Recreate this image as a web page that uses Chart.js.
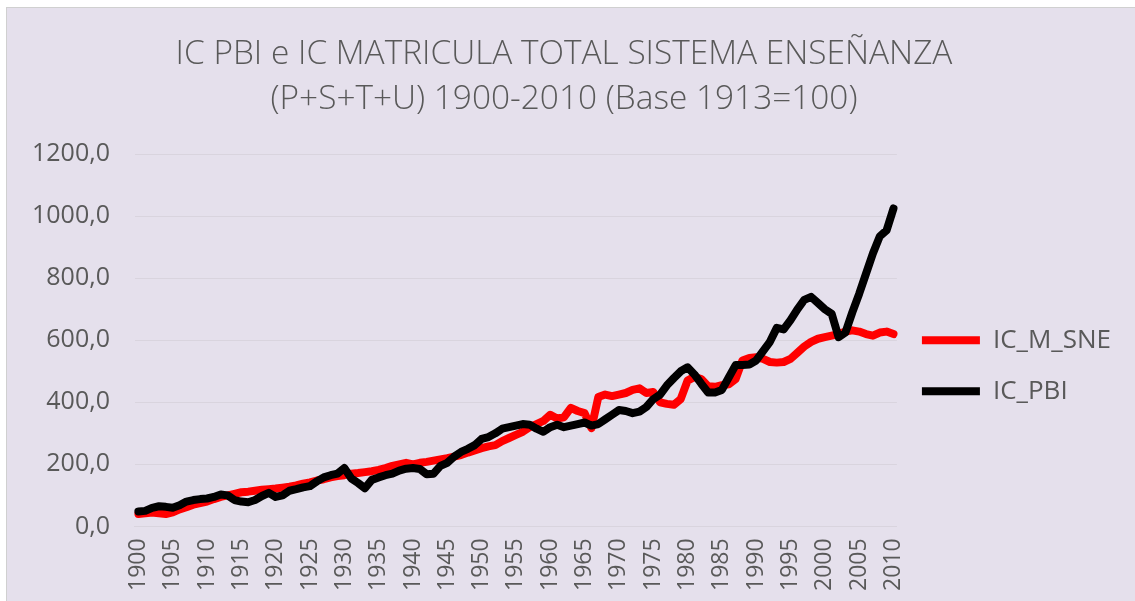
<!DOCTYPE html>
<html>
<head>
<meta charset="utf-8">
<script src="https://cdn.jsdelivr.net/npm/chart.js@4.4.1/dist/chart.umd.min.js"></script>
<style>
  html, body { margin: 0; padding: 0; background: #ffffff; }
  #frame {
    position: absolute; left: 6px; top: 7px; width: 1129px; height: 594px;
    background: #e5e0ec; border-left: 1px solid #d0d0d0; border-top: 1px solid #d0d0d0;
  }
  canvas { display: block; }
</style>
</head>
<body>
<div id="frame"><canvas id="chart" width="1128" height="593"></canvas></div>
<script>
const years = [
  1900, 1901, 1902, 1903, 1904, 1905, 1906, 1907, 1908, 1909,
  1910, 1911, 1912, 1913, 1914, 1915, 1916, 1917, 1918, 1919,
  1920, 1921, 1922, 1923, 1924, 1925, 1926, 1927, 1928, 1929,
  1930, 1931, 1932, 1933, 1934, 1935, 1936, 1937, 1938, 1939,
  1940, 1941, 1942, 1943, 1944, 1945, 1946, 1947, 1948, 1949,
  1950, 1951, 1952, 1953, 1954, 1955, 1956, 1957, 1958, 1959,
  1960, 1961, 1962, 1963, 1964, 1965, 1966, 1967, 1968, 1969,
  1970, 1971, 1972, 1973, 1974, 1975, 1976, 1977, 1978, 1979,
  1980, 1981, 1982, 1983, 1984, 1985, 1986, 1987, 1988, 1989,
  1990, 1991, 1992, 1993, 1994, 1995, 1996, 1997, 1998, 1999,
  2000, 2001, 2002, 2003, 2004, 2005, 2006, 2007, 2008, 2009, 2010
];

// IC_M_SNE (red)
const icMatricula = [
  40, 42, 45, 42, 40, 45, 55, 62, 70, 75,
  80, 88, 95, 100, 105, 110, 112, 115, 118, 120,
  122, 125, 128, 132, 138, 142, 148, 152, 158, 162,
  165, 170, 172, 175, 178, 182, 188, 195, 200, 205,
  200, 205, 208, 212, 216, 220, 225, 230, 238, 245,
  252, 258, 262, 275, 285, 295, 305, 320, 330, 340,
  360, 348, 352, 382, 372, 365, 317, 417, 425, 420,
  425, 430, 440, 445, 430, 433, 400, 395, 392, 410,
  470, 482, 475, 452, 450, 455, 458, 475, 535, 543,
  545, 540, 530, 528, 530, 540, 560, 580, 595, 605,
  610, 615, 620, 628, 632, 628, 620, 615, 625, 628, 620
];

// IC_PBI (black)
const icPbi = [
  48, 50, 60, 65, 63, 60, 68, 80, 85, 88,
  90, 95, 103, 100, 85, 80, 78, 85, 98, 108,
  95, 100, 115, 120, 126, 130, 145, 158, 165, 170,
  188, 155, 140, 123, 150, 158, 165, 170, 180, 186,
  188, 185, 168, 170, 195, 205, 225, 240, 250, 262,
  282, 288, 300, 315, 320, 325, 330, 328, 315, 305,
  320, 328, 320, 325, 330, 335, 325, 330, 345, 360,
  375, 372, 365, 370, 385, 410, 425, 455, 478, 500,
  513, 490, 460, 432, 432, 440, 480, 520, 520, 522,
  535, 565, 595, 640, 635, 665, 700, 730, 740, 720,
  700, 685, 610, 625, 690, 750, 815, 880, 935, 955, 1025
];

const yTicks = [0, 200, 400, 600, 800, 1000, 1200];

const titleLines = [
  "IC PBI e IC MATRICULA TOTAL SISTEMA ENSEÑANZA",
  "(P+S+T+U) 1900-2010 (Base 1913=100)"
];

const textGrey = "#595959";
const gridGrey = "#d9d4de";

const ctx = document.getElementById("chart").getContext("2d");

new Chart(ctx, {
  type: "line",
  data: {
    labels: years,
    datasets: [
      {
        label: "IC_M_SNE",
        data: icMatricula,
        borderColor: "#ff0000",
        backgroundColor: "#ff0000",
        borderWidth: 8,
        borderCapStyle: "round",
        borderJoinStyle: "round",
        pointRadius: 0,
        tension: 0,
        order: 1,
      },
      {
        label: "IC_PBI",
        data: icPbi,
        borderColor: "#000000",
        backgroundColor: "#000000",
        borderWidth: 8,
        borderCapStyle: "round",
        borderJoinStyle: "round",
        pointRadius: 0,
        tension: 0,
        order: 0,
      },
    ],
  },
  options: {
    responsive: false,
    animation: false,
    layout: {
      padding: { left: 0, right: 14, top: 0, bottom: -2 },
    },
    plugins: {
      tooltip: { enabled: false },
      title: {
        display: true,
        text: titleLines,
        color: textGrey,
        font: { family: "'Open Sans', sans-serif", size: 33.4, weight: "300", lineHeight: 1.35 },
        padding: { top: 24, bottom: 32 },
      },
      legend: {
        position: "right",
        fullSize: false,
        title: { display: true, text: "", font: { size: 10, lineHeight: 1 }, padding: { top: 41, bottom: 0 } },
        labels: {
          usePointStyle: true,
          pointStyle: "line",
          pointStyleWidth: 58,
          padding: 25,
          color: textGrey,
          font: { family: "'Open Sans', sans-serif", size: 26 },
          sort: (a, b) => a.datasetIndex - b.datasetIndex,
        },
      },
    },
    scales: {
      x: {
        type: "category",
        offset: true,
        grid: { display: false, drawTicks: false },
        border: { display: true, color: gridGrey, width: 1 },
        ticks: {
          autoSkip: false,
          minRotation: 90,
          maxRotation: 90,
          padding: 12,
          color: textGrey,
          font: { family: "'Open Sans', sans-serif", size: 23 },
          callback: function (value, index) {
            const y = years[index];
            return y % 5 === 0 ? String(y) : "";
          },
        },
      },
      y: {
        min: 0,
        max: 1200,
        afterBuildTicks: (axis) => {
          axis.ticks = yTicks.map((v) => ({ value: v }));
        },
        grid: { color: gridGrey, drawTicks: false },
        border: { display: false },
        ticks: {
          padding: 25,
          color: textGrey,
          font: { family: "'Open Sans', sans-serif", size: 25 },
          callback: (v) => v.toFixed(1).replace(".", ","),
        },
      },
    },
  },
});
</script>
</body>
</html>
